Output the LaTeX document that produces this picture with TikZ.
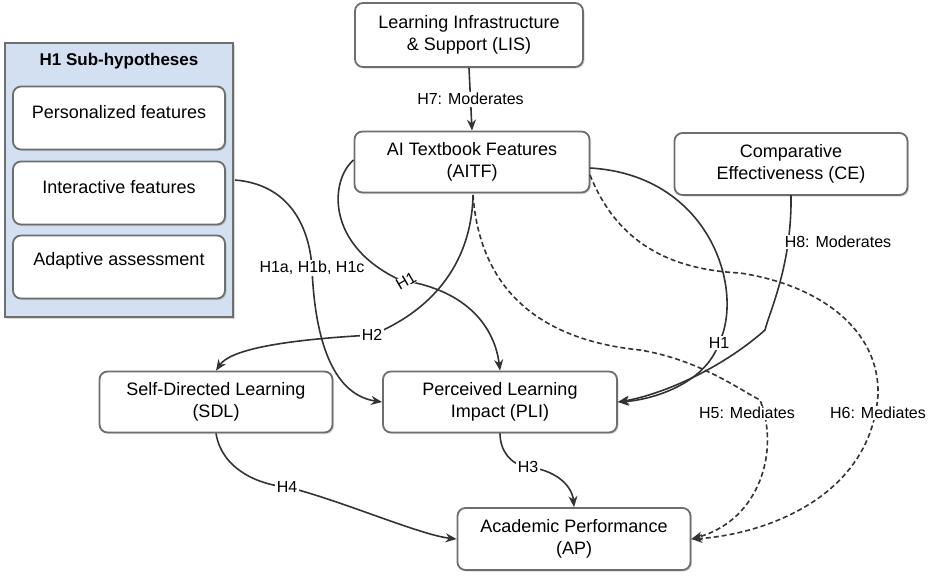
\documentclass[tikz,border=0pt]{standalone}
\usepackage{fontspec}
\setmainfont{Liberation Sans}
\usetikzlibrary{shadows,arrows.meta}
\definecolor{edge}{HTML}{333333}
\definecolor{bord}{HTML}{6E6E6E}
\definecolor{panel}{HTML}{D3E0F1}
\begin{document}
\begin{tikzpicture}[x=1pt,y=-1pt,
  box/.style={draw=bord,line width=1.8pt,rounded corners=8pt,fill=white,align=center,
    font=\fontsize{18}{22}\selectfont,inner sep=2pt,
    drop shadow={opacity=0.3,shadow xshift=1.5pt,shadow yshift=-1.5pt}},
  sub/.style={box,minimum width=212pt,minimum height=63pt},
  lab/.style={fill=white,inner sep=1.5pt,font=\fontsize{16}{19}\selectfont},
  con/.style={draw=edge,line width=1.6pt,-{Stealth[length=11pt,width=9pt]}},
  dcon/.style={con,dash pattern=on 5pt off 3pt}]
\useasboundingbox (0,0) rectangle (939,579);
% panel
\node[draw=bord,line width=2.4pt,fill=panel,minimum width=228pt,minimum height=274pt,
  drop shadow={opacity=0.3,shadow xshift=1.5pt,shadow yshift=-1.5pt}] (panel) at (119,180) {};
\node[font=\bfseries\fontsize{17}{20}\selectfont] (ptitle) at (119,61) {H1 Sub-hypotheses};
\node[sub] (pers) at (119,118) {};
\node[font=\fontsize{18}{22}\selectfont] (perst) at (119,112) {Personalized features};
\node[sub] (inter) at (119,193) {};
\node[font=\fontsize{18}{22}\selectfont] (intert) at (119,187) {Interactive features};
\node[sub] (adap) at (119,267) {};
\node[font=\fontsize{18}{22}\selectfont] (adapt) at (119,261) {Adaptive assessment};
% main nodes
\node[box,minimum width=228pt,minimum height=64pt] (lis) at (469,35) {Learning Infrastructure\\\& Support (LIS)};
\node[box,minimum width=235pt,minimum height=61pt] (aitf) at (472,162) {AI Textbook Features\\(AITF)};
\node[box,minimum width=233pt,minimum height=62pt] (ce) at (791,164) {Comparative\\Effectiveness (CE)};
\node[box,minimum width=233pt,minimum height=61pt] (sdl) at (216,402) {Self-Directed Learning\\(SDL)};
\node[box,minimum width=234pt,minimum height=61pt] (pli) at (500,402) {Perceived Learning\\Impact (PLI)};
\node[box,minimum width=233pt,minimum height=62pt] (ap) at (574,539) {Academic Performance\\(AP)};
% label coordinates
\coordinate (cH1r) at (719,343);
\coordinate (cH8) at (765,330);
\coordinate (cH5) at (760,400);
\coordinate (cH6) at (878,395);
% edges
\draw[con] (lis.south) -- (aitf.north) node[lab,midway] (l7) {H7: Moderates};
\draw[con] (235,180) .. controls (295,185) and (310,235) .. (312,268)
  .. controls (315,345) and (335,395) .. (pli.west);
\node[lab] (l1abc) at (312,268) {H1a, H1b, H1c};
\draw[con] (aitf.west) ++(0,-2) .. controls (330,180) and (325,245) .. (400,280)
  .. controls (470,290) and (495,330) .. (pli.north);
\draw[con] (473,195) .. controls (472,250) and (445,305) .. (372,335)
  .. controls (280,340) and (230,350) .. (sdl.north);
\draw[con] (590,168) .. controls (710,175) and (745,290) .. (cH1r)
  .. controls (705,385) and (650,400) .. (pli.east);
\draw[con] (791,195) .. controls (792,265) and (770,310) .. (cH8)
  .. controls (720,370) and (660,395) .. (pli.east);
\node[lab] (l1r) at (719,343) {H1};
\node[lab] (l8) at (838,242) {H8: Moderates};
\draw[dcon] (473,195) .. controls (480,290) and (540,340) .. (640,350)
  .. controls (700,360) and (740,390) .. (cH5)
  .. controls (780,450) and (760,520) .. (ap.east);
\draw[dcon] (590,175) .. controls (620,250) and (680,270) .. (740,273)
  .. controls (820,285) and (880,330) .. (cH6)
  .. controls (870,500) and (760,535) .. (ap.east);
\node[lab] (l5) at (747,413) {H5: Mediates};
\node[lab] (l6) at (878,413) {H6: Mediates};
\node[lab,rotate=30,inner sep=0.5pt] (l1l) at (406,281) {H1};
\node[lab] (l2) at (372,335) {H2};
\draw[con] (pli.south) .. controls (500,450) and (510,465) .. (528,467)
  .. controls (555,470) and (572,485) .. (ap.north);
\node[lab] (l3) at (528,467) {H3};
\draw[con] (sdl.south) .. controls (222,470) and (260,485) .. (287,487)
  .. controls (340,500) and (420,535) .. (ap.west);
\node[lab] (l4) at (287,487) {H4};
\end{tikzpicture}
\end{document}
